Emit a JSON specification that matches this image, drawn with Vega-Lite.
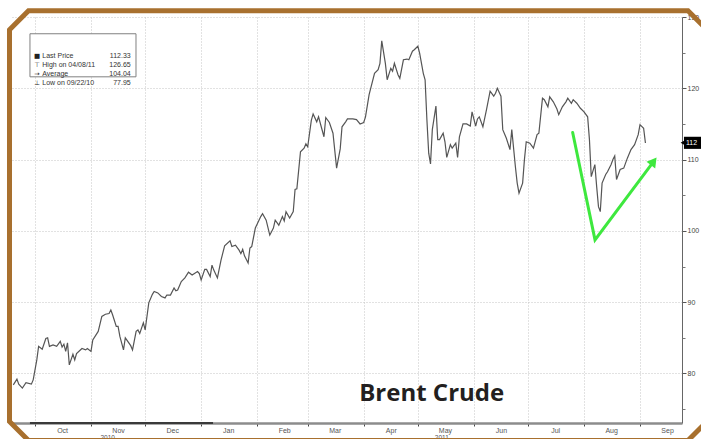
{
  "$schema": "https://vega.github.io/schema/vega-lite/v6.json",
  "width": 670,
  "height": 406,
  "autosize": {"type": "none"},
  "padding": {"left": 12, "top": 17, "right": 19, "bottom": 16},
  "background": "white",
  "config": {"view": {"stroke": null}, "font": "Liberation Sans", "axis": {"labelFont": "Liberation Sans", "title": null}},
  "datasets": {
    "brent": [
      {"date": "2010-09-19", "price": 78.4}, {"date": "2010-09-21", "price": 79.2}, {"date": "2010-09-22", "price": 78.5},
      {"date": "2010-09-24", "price": 77.95}, {"date": "2010-09-26", "price": 78.7}, {"date": "2010-09-29", "price": 78.5},
      {"date": "2010-09-30", "price": 79.1}, {"date": "2010-10-02", "price": 81.9}, {"date": "2010-10-03", "price": 83.8},
      {"date": "2010-10-05", "price": 83.4}, {"date": "2010-10-07", "price": 84.9}, {"date": "2010-10-08", "price": 85.0},
      {"date": "2010-10-09", "price": 83.8}, {"date": "2010-10-11", "price": 84.0}, {"date": "2010-10-13", "price": 83.8},
      {"date": "2010-10-15", "price": 84.5}, {"date": "2010-10-16", "price": 83.7}, {"date": "2010-10-17", "price": 84.1},
      {"date": "2010-10-18", "price": 83.1}, {"date": "2010-10-19", "price": 84.3}, {"date": "2010-10-20", "price": 81.2},
      {"date": "2010-10-22", "price": 82.7}, {"date": "2010-10-23", "price": 81.9}, {"date": "2010-10-24", "price": 82.8},
      {"date": "2010-10-27", "price": 83.5}, {"date": "2010-10-29", "price": 83.3}, {"date": "2010-10-30", "price": 83.5},
      {"date": "2010-11-01", "price": 83.1}, {"date": "2010-11-02", "price": 84.7}, {"date": "2010-11-05", "price": 85.9},
      {"date": "2010-11-07", "price": 88.0}, {"date": "2010-11-09", "price": 88.3}, {"date": "2010-11-11", "price": 88.4},
      {"date": "2010-11-12", "price": 88.9}, {"date": "2010-11-13", "price": 88.2}, {"date": "2010-11-15", "price": 86.6},
      {"date": "2010-11-16", "price": 86.6}, {"date": "2010-11-17", "price": 85.2}, {"date": "2010-11-19", "price": 83.3},
      {"date": "2010-11-20", "price": 85.0}, {"date": "2010-11-23", "price": 83.9}, {"date": "2010-11-24", "price": 83.3},
      {"date": "2010-11-26", "price": 85.9}, {"date": "2010-11-27", "price": 86.1}, {"date": "2010-11-28", "price": 85.6},
      {"date": "2010-11-30", "price": 87.1}, {"date": "2010-12-01", "price": 86.1}, {"date": "2010-12-03", "price": 89.9},
      {"date": "2010-12-05", "price": 91.1}, {"date": "2010-12-06", "price": 91.5}, {"date": "2010-12-08", "price": 91.3},
      {"date": "2010-12-10", "price": 90.8}, {"date": "2010-12-12", "price": 90.6}, {"date": "2010-12-13", "price": 91.0},
      {"date": "2010-12-15", "price": 91.0}, {"date": "2010-12-17", "price": 92.0}, {"date": "2010-12-18", "price": 91.6},
      {"date": "2010-12-19", "price": 91.7}, {"date": "2010-12-21", "price": 92.9}, {"date": "2010-12-23", "price": 93.4},
      {"date": "2010-12-25", "price": 94.2}, {"date": "2010-12-27", "price": 93.8}, {"date": "2010-12-30", "price": 94.3},
      {"date": "2010-12-31", "price": 94.0}, {"date": "2011-01-01", "price": 93.1}, {"date": "2011-01-03", "price": 94.6},
      {"date": "2011-01-04", "price": 94.6}, {"date": "2011-01-06", "price": 93.6}, {"date": "2011-01-07", "price": 95.2},
      {"date": "2011-01-08", "price": 94.5}, {"date": "2011-01-10", "price": 93.4}, {"date": "2011-01-12", "price": 95.9},
      {"date": "2011-01-14", "price": 97.9}, {"date": "2011-01-17", "price": 98.6}, {"date": "2011-01-18", "price": 97.8},
      {"date": "2011-01-20", "price": 98.0}, {"date": "2011-01-22", "price": 97.3}, {"date": "2011-01-23", "price": 96.8},
      {"date": "2011-01-24", "price": 97.4}, {"date": "2011-01-25", "price": 96.5}, {"date": "2011-01-27", "price": 95.5},
      {"date": "2011-01-28", "price": 97.6}, {"date": "2011-01-29", "price": 97.8}, {"date": "2011-01-31", "price": 100.4},
      {"date": "2011-02-03", "price": 102.0}, {"date": "2011-02-04", "price": 102.4}, {"date": "2011-02-06", "price": 101.5},
      {"date": "2011-02-08", "price": 99.4}, {"date": "2011-02-10", "price": 100.4}, {"date": "2011-02-11", "price": 101.5},
      {"date": "2011-02-13", "price": 100.8}, {"date": "2011-02-15", "price": 102.0}, {"date": "2011-02-16", "price": 101.4},
      {"date": "2011-02-17", "price": 102.7}, {"date": "2011-02-19", "price": 101.8}, {"date": "2011-02-21", "price": 102.7},
      {"date": "2011-02-22", "price": 105.8}, {"date": "2011-02-23", "price": 105.9}, {"date": "2011-02-25", "price": 111.1},
      {"date": "2011-02-27", "price": 111.6}, {"date": "2011-02-28", "price": 112.2}, {"date": "2011-03-01", "price": 111.8},
      {"date": "2011-03-03", "price": 115.5}, {"date": "2011-03-04", "price": 116.4}, {"date": "2011-03-06", "price": 115.3},
      {"date": "2011-03-07", "price": 116.0}, {"date": "2011-03-10", "price": 113.2}, {"date": "2011-03-11", "price": 115.9},
      {"date": "2011-03-13", "price": 115.2}, {"date": "2011-03-15", "price": 113.7}, {"date": "2011-03-17", "price": 108.8},
      {"date": "2011-03-19", "price": 111.5}, {"date": "2011-03-20", "price": 114.6}, {"date": "2011-03-22", "price": 115.3},
      {"date": "2011-03-23", "price": 115.7}, {"date": "2011-03-26", "price": 115.7}, {"date": "2011-03-28", "price": 115.6},
      {"date": "2011-03-30", "price": 115.0}, {"date": "2011-04-01", "price": 115.2}, {"date": "2011-04-02", "price": 116.0},
      {"date": "2011-04-04", "price": 119.1}, {"date": "2011-04-07", "price": 122.1}, {"date": "2011-04-09", "price": 122.6},
      {"date": "2011-04-10", "price": 123.5}, {"date": "2011-04-11", "price": 126.65}, {"date": "2011-04-13", "price": 123.5},
      {"date": "2011-04-14", "price": 121.2}, {"date": "2011-04-16", "price": 122.8}, {"date": "2011-04-17", "price": 122.4},
      {"date": "2011-04-18", "price": 123.5}, {"date": "2011-04-20", "price": 121.9}, {"date": "2011-04-21", "price": 121.4},
      {"date": "2011-04-23", "price": 124.0}, {"date": "2011-04-25", "price": 124.1}, {"date": "2011-04-26", "price": 124.0},
      {"date": "2011-04-28", "price": 125.2}, {"date": "2011-04-29", "price": 125.4}, {"date": "2011-05-01", "price": 125.9},
      {"date": "2011-05-02", "price": 124.9}, {"date": "2011-05-04", "price": 122.1}, {"date": "2011-05-05", "price": 121.2},
      {"date": "2011-05-06", "price": 115.6}, {"date": "2011-05-07", "price": 110.9}, {"date": "2011-05-08", "price": 109.4},
      {"date": "2011-05-09", "price": 114.2}, {"date": "2011-05-11", "price": 117.5}, {"date": "2011-05-12", "price": 112.8},
      {"date": "2011-05-13", "price": 112.8}, {"date": "2011-05-15", "price": 113.7}, {"date": "2011-05-16", "price": 112.5},
      {"date": "2011-05-17", "price": 110.3}, {"date": "2011-05-19", "price": 112.1}, {"date": "2011-05-20", "price": 111.6},
      {"date": "2011-05-22", "price": 112.3}, {"date": "2011-05-23", "price": 110.3}, {"date": "2011-05-24", "price": 113.2},
      {"date": "2011-05-26", "price": 115.0}, {"date": "2011-05-28", "price": 115.0}, {"date": "2011-05-30", "price": 114.7},
      {"date": "2011-05-31", "price": 116.7}, {"date": "2011-06-02", "price": 114.7}, {"date": "2011-06-03", "price": 115.7},
      {"date": "2011-06-04", "price": 116.0}, {"date": "2011-06-06", "price": 114.6}, {"date": "2011-06-08", "price": 117.0},
      {"date": "2011-06-10", "price": 119.6}, {"date": "2011-06-12", "price": 118.9}, {"date": "2011-06-13", "price": 119.3},
      {"date": "2011-06-14", "price": 120.0}, {"date": "2011-06-16", "price": 118.9}, {"date": "2011-06-17", "price": 114.2},
      {"date": "2011-06-19", "price": 113.0}, {"date": "2011-06-21", "price": 111.4}, {"date": "2011-06-22", "price": 114.2},
      {"date": "2011-06-24", "price": 109.0}, {"date": "2011-06-25", "price": 106.7}, {"date": "2011-06-26", "price": 105.3},
      {"date": "2011-06-28", "price": 106.7}, {"date": "2011-06-29", "price": 110.0}, {"date": "2011-06-30", "price": 112.5},
      {"date": "2011-07-02", "price": 112.3}, {"date": "2011-07-04", "price": 111.6}, {"date": "2011-07-06", "price": 113.5},
      {"date": "2011-07-07", "price": 113.7}, {"date": "2011-07-09", "price": 118.6}, {"date": "2011-07-10", "price": 118.4},
      {"date": "2011-07-12", "price": 117.4}, {"date": "2011-07-13", "price": 118.8}, {"date": "2011-07-15", "price": 118.1},
      {"date": "2011-07-17", "price": 117.1}, {"date": "2011-07-18", "price": 116.3}, {"date": "2011-07-20", "price": 117.4},
      {"date": "2011-07-22", "price": 118.1}, {"date": "2011-07-23", "price": 118.6}, {"date": "2011-07-25", "price": 117.9},
      {"date": "2011-07-26", "price": 118.4}, {"date": "2011-07-28", "price": 117.9}, {"date": "2011-07-30", "price": 117.2},
      {"date": "2011-08-01", "price": 116.7}, {"date": "2011-08-03", "price": 116.0}, {"date": "2011-08-04", "price": 112.8},
      {"date": "2011-08-05", "price": 107.6}, {"date": "2011-08-07", "price": 109.3}, {"date": "2011-08-08", "price": 106.2},
      {"date": "2011-08-09", "price": 103.4}, {"date": "2011-08-10", "price": 102.7}, {"date": "2011-08-11", "price": 106.7},
      {"date": "2011-08-13", "price": 107.9}, {"date": "2011-08-14", "price": 108.3}, {"date": "2011-08-16", "price": 109.3},
      {"date": "2011-08-17", "price": 110.0}, {"date": "2011-08-18", "price": 110.5}, {"date": "2011-08-19", "price": 107.2},
      {"date": "2011-08-21", "price": 108.6}, {"date": "2011-08-23", "price": 108.8}, {"date": "2011-08-25", "price": 110.2},
      {"date": "2011-08-27", "price": 111.4}, {"date": "2011-08-29", "price": 112.1}, {"date": "2011-08-31", "price": 113.5},
      {"date": "2011-09-01", "price": 114.9}, {"date": "2011-09-03", "price": 114.4}, {"date": "2011-09-04", "price": 112.33}
    ],
    "frame": [
      {"i": 1, "date": "2010-09-16T21:07:00Z", "price": 128.21},
      {"i": 2, "date": "2010-09-27T09:36:00Z", "price": 130.88},
      {"i": 3, "date": "2011-09-27T13:41:00Z", "price": 130.88},
      {"i": 4, "date": "2011-10-08T02:10:00Z", "price": 128.21},
      {"i": 5, "date": "2011-10-08T02:10:00Z", "price": 73.26},
      {"i": 6, "date": "2011-09-27T13:41:00Z", "price": 70.6},
      {"i": 7, "date": "2010-09-27T09:36:00Z", "price": 70.6},
      {"i": 8, "date": "2010-09-16T21:07:00Z", "price": 73.26},
      {"i": 9, "date": "2010-09-16T21:07:00Z", "price": 128.21},
      {"i": 10, "date": "2010-09-27T09:36:00Z", "price": 130.88}
    ],
    "arrow": [
      {"i": 1, "date": "2011-07-25T17:00:00Z", "price": 113.8},
      {"i": 2, "date": "2011-08-07T02:00:00Z", "price": 98.74},
      {"i": 3, "date": "2011-09-08T14:00:00Z", "price": 109.75}
    ]
  },
  "resolve": {"axis": {"x": "independent", "y": "independent"}},
  "layer": [
    {
      "data": {"name": "brent"},
      "mark": {"type": "line", "color": "#555555", "strokeWidth": 1.2},
      "encoding": {
        "x": {
          "field": "date", "type": "temporal",
          "scale": {"domain": [{"year": 2010, "month": 9, "date": 18, "hours": 6, "minutes": 22, "utc": true}, {"year": 2011, "month": 9, "date": 24, "hours": 6, "utc": true}], "nice": false},
          "axis": {
            "orient": "bottom",
            "values": [
              {"year": 2010, "month": 10, "date": 1, "utc": true}, {"year": 2010, "month": 11, "date": 1, "utc": true},
              {"year": 2010, "month": 12, "date": 1, "utc": true}, {"year": 2011, "month": 1, "date": 1, "utc": true},
              {"year": 2011, "month": 2, "date": 1, "utc": true}, {"year": 2011, "month": 3, "date": 1, "utc": true},
              {"year": 2011, "month": 4, "date": 1, "utc": true}, {"year": 2011, "month": 5, "date": 1, "utc": true},
              {"year": 2011, "month": 6, "date": 1, "utc": true}, {"year": 2011, "month": 7, "date": 1, "utc": true},
              {"year": 2011, "month": 8, "date": 1, "utc": true}, {"year": 2011, "month": 9, "date": 1, "utc": true}
            ],
            "labels": false, "ticks": true, "tickSize": 3, "tickColor": "#444444",
            "grid": true, "gridColor": "#c4c4c4", "gridDash": [1, 2], "gridWidth": 1,
            "domain": true, "domainColor": "#8c8c8c", "domainWidth": 2.5, "title": null
          }
        },
        "y": {
          "field": "price", "type": "quantitative",
          "scale": {"domain": [73.05, 130], "nice": false, "zero": false},
          "axis": {
            "orient": "right", "values": [80, 90, 100, 110, 120, 130],
            "grid": true, "gridColor": "#c4c4c4", "gridDash": [1, 2], "gridWidth": 1,
            "domainColor": "#666666", "domainWidth": 1, "tickSize": 4, "tickColor": "#555555",
            "labelFontSize": 7, "labelColor": "#444444", "labelPadding": 1, "title": null
          }
        }
      }
    },
    {
      "data": {"name": "brent"},
      "mark": {"type": "point", "opacity": 0},
      "encoding": {
        "x": {
          "field": "date", "type": "temporal",
          "axis": {
            "orient": "bottom",
            "values": [
              {"year": 2010, "month": 10, "date": 16, "utc": true}, {"year": 2010, "month": 11, "date": 16, "utc": true},
              {"year": 2010, "month": 12, "date": 16, "utc": true}, {"year": 2011, "month": 1, "date": 16, "utc": true},
              {"year": 2011, "month": 2, "date": 16, "utc": true}, {"year": 2011, "month": 3, "date": 16, "utc": true},
              {"year": 2011, "month": 4, "date": 16, "utc": true}, {"year": 2011, "month": 5, "date": 16, "utc": true},
              {"year": 2011, "month": 6, "date": 16, "utc": true}, {"year": 2011, "month": 7, "date": 16, "utc": true},
              {"year": 2011, "month": 8, "date": 16, "utc": true}, {"year": 2011, "month": 9, "date": 16, "utc": true}
            ],
            "labelExpr": "utcFormat(datum.value, '%b')",
            "ticks": false, "tickSize": 0, "domain": false, "grid": false,
            "labelPadding": 3, "labelFontSize": 7, "labelColor": "#555555",
            "labelFlush": false, "labelOverlap": false, "title": null
          }
        },
        "y": {
          "field": "price", "type": "quantitative",
          "axis": {
            "orient": "right", "values": [75, 85, 95, 105, 115, 125],
            "labels": false, "domain": false, "grid": false,
            "tickSize": 3, "tickColor": "#777777", "title": null
          }
        }
      }
    },
    {
      "data": {"name": "brent"},
      "mark": {"type": "point", "opacity": 0},
      "encoding": {
        "x": {
          "field": "date", "type": "temporal",
          "axis": {
            "orient": "bottom",
            "values": [{"year": 2010, "month": 11, "date": 10, "utc": true}, {"year": 2011, "month": 5, "date": 14, "utc": true}],
            "labelExpr": "utcFormat(datum.value, '%Y')",
            "ticks": false, "tickSize": 0, "domain": false, "grid": false,
            "labelPadding": 11, "labelFontSize": 6.5, "labelColor": "#555555",
            "labelFlush": false, "labelOverlap": false, "title": null
          }
        },
        "y": {"field": "price", "type": "quantitative", "axis": null}
      }
    },
    {
      "data": {"values": [{}]},
      "mark": {"type": "rule", "color": "#3a3a3a", "strokeWidth": 2},
      "encoding": {
        "x": {"datum": {"year": 2010, "month": 9, "date": 28, "hours": 5, "utc": true}, "type": "temporal", "axis": null},
        "x2": {"datum": {"year": 2011, "month": 1, "date": 7, "hours": 14, "utc": true}},
        "y": {"datum": 73.05, "type": "quantitative", "axis": null}
      }
    },
    {
      "data": {"values": [{}]},
      "mark": {"type": "rect", "fill": "white", "stroke": "#808080", "strokeWidth": 1},
      "encoding": {
        "x": {"datum": {"year": 2010, "month": 9, "date": 28, "hours": 5, "utc": true}, "type": "temporal", "axis": null},
        "x2": {"datum": {"year": 2010, "month": 11, "date": 25, "hours": 22, "utc": true}},
        "y": {"datum": 127.65, "type": "quantitative", "axis": null},
        "y2": {"datum": 121.61}
      }
    },
    {
      "data": {"values": [{}]},
      "mark": {"type": "text", "font": "DejaVu Sans", "fontSize": 6.5, "color": "#222222", "align": "center", "baseline": "middle", "lineHeight": 9.1},
      "encoding": {
        "x": {"datum": {"year": 2010, "month": 10, "date": 2, "hours": 2, "utc": true}, "type": "temporal", "axis": null},
        "y": {"datum": 124.51, "type": "quantitative", "axis": null},
        "text": {"value": ["■", "⊤", "→", "⊥"]}
      }
    },
    {
      "data": {"values": [{}]},
      "mark": {"type": "text", "font": "Liberation Sans", "fontSize": 7, "color": "#333333", "align": "left", "baseline": "middle", "lineHeight": 9.1},
      "encoding": {
        "x": {"datum": {"year": 2010, "month": 10, "date": 5, "hours": 1, "utc": true}, "type": "temporal", "axis": null},
        "y": {"datum": 124.51, "type": "quantitative", "axis": null},
        "text": {"value": ["Last Price", "High on 04/08/11", "Average", "Low on 09/22/10"]}
      }
    },
    {
      "data": {"values": [{}]},
      "mark": {"type": "text", "font": "Liberation Sans", "fontSize": 7, "color": "#333333", "align": "right", "baseline": "middle", "lineHeight": 9.1},
      "encoding": {
        "x": {"datum": {"year": 2010, "month": 11, "date": 23, "utc": true}, "type": "temporal", "axis": null},
        "y": {"datum": 124.51, "type": "quantitative", "axis": null},
        "text": {"value": ["112.33", "126.65", "104.04", "77.95"]}
      }
    },
    {
      "data": {"values": [{}]},
      "mark": {"type": "point", "shape": "triangle-left", "filled": true, "color": "black", "size": 30, "opacity": 1},
      "encoding": {
        "x": {"datum": {"year": 2011, "month": 9, "date": 24, "hours": 19, "utc": true}, "type": "temporal", "axis": null},
        "y": {"datum": 112.35, "type": "quantitative", "axis": null}
      }
    },
    {
      "data": {"values": [{}]},
      "mark": {"type": "rect", "fill": "black"},
      "encoding": {
        "x": {"datum": {"year": 2011, "month": 9, "date": 25, "hours": 8, "utc": true}, "type": "temporal", "axis": null},
        "x2": {"datum": {"year": 2011, "month": 10, "date": 5, "utc": true}},
        "y": {"datum": 111.5, "type": "quantitative", "axis": null},
        "y2": {"datum": 113.2}
      }
    },
    {
      "data": {"values": [{}]},
      "mark": {"type": "text", "font": "Liberation Sans", "fontSize": 7, "color": "white", "align": "left", "baseline": "middle"},
      "encoding": {
        "x": {"datum": {"year": 2011, "month": 9, "date": 26, "hours": 10, "utc": true}, "type": "temporal", "axis": null},
        "y": {"datum": 112.35, "type": "quantitative", "axis": null},
        "text": {"value": "112"}
      }
    },
    {
      "data": {"name": "arrow"},
      "mark": {"type": "line", "color": "#3ee83e", "strokeWidth": 3, "strokeCap": "round", "strokeJoin": "miter"},
      "encoding": {
        "x": {"field": "date", "type": "temporal", "axis": null},
        "y": {"field": "price", "type": "quantitative", "axis": null},
        "order": {"field": "i", "type": "quantitative"}
      }
    },
    {
      "data": {"values": [{}]},
      "mark": {"type": "point", "shape": "triangle-up", "filled": true, "color": "#3ee83e", "size": 120, "angle": 37, "opacity": 1},
      "encoding": {
        "x": {"datum": {"year": 2011, "month": 9, "date": 8, "hours": 14, "utc": true}, "type": "temporal", "axis": null},
        "y": {"datum": 109.75, "type": "quantitative", "axis": null}
      }
    },
    {
      "data": {"values": [{}]},
      "mark": {"type": "text", "font": "Open Sans", "fontWeight": "bold", "fontSize": 24, "color": "#231f20", "align": "center", "baseline": "alphabetic"},
      "encoding": {
        "x": {"datum": {"year": 2011, "month": 5, "date": 8, "hours": 16, "utc": true}, "type": "temporal", "axis": null},
        "y": {"datum": 76.14, "type": "quantitative", "axis": null},
        "text": {"value": "Brent Crude"}
      }
    },
    {
      "data": {"name": "frame"},
      "mark": {"type": "line", "color": "#a8702e", "strokeWidth": 5, "strokeJoin": "miter", "strokeCap": "butt"},
      "encoding": {
        "x": {"field": "date", "type": "temporal", "axis": null},
        "y": {"field": "price", "type": "quantitative", "axis": null},
        "order": {"field": "i", "type": "quantitative"}
      }
    }
  ]
}
